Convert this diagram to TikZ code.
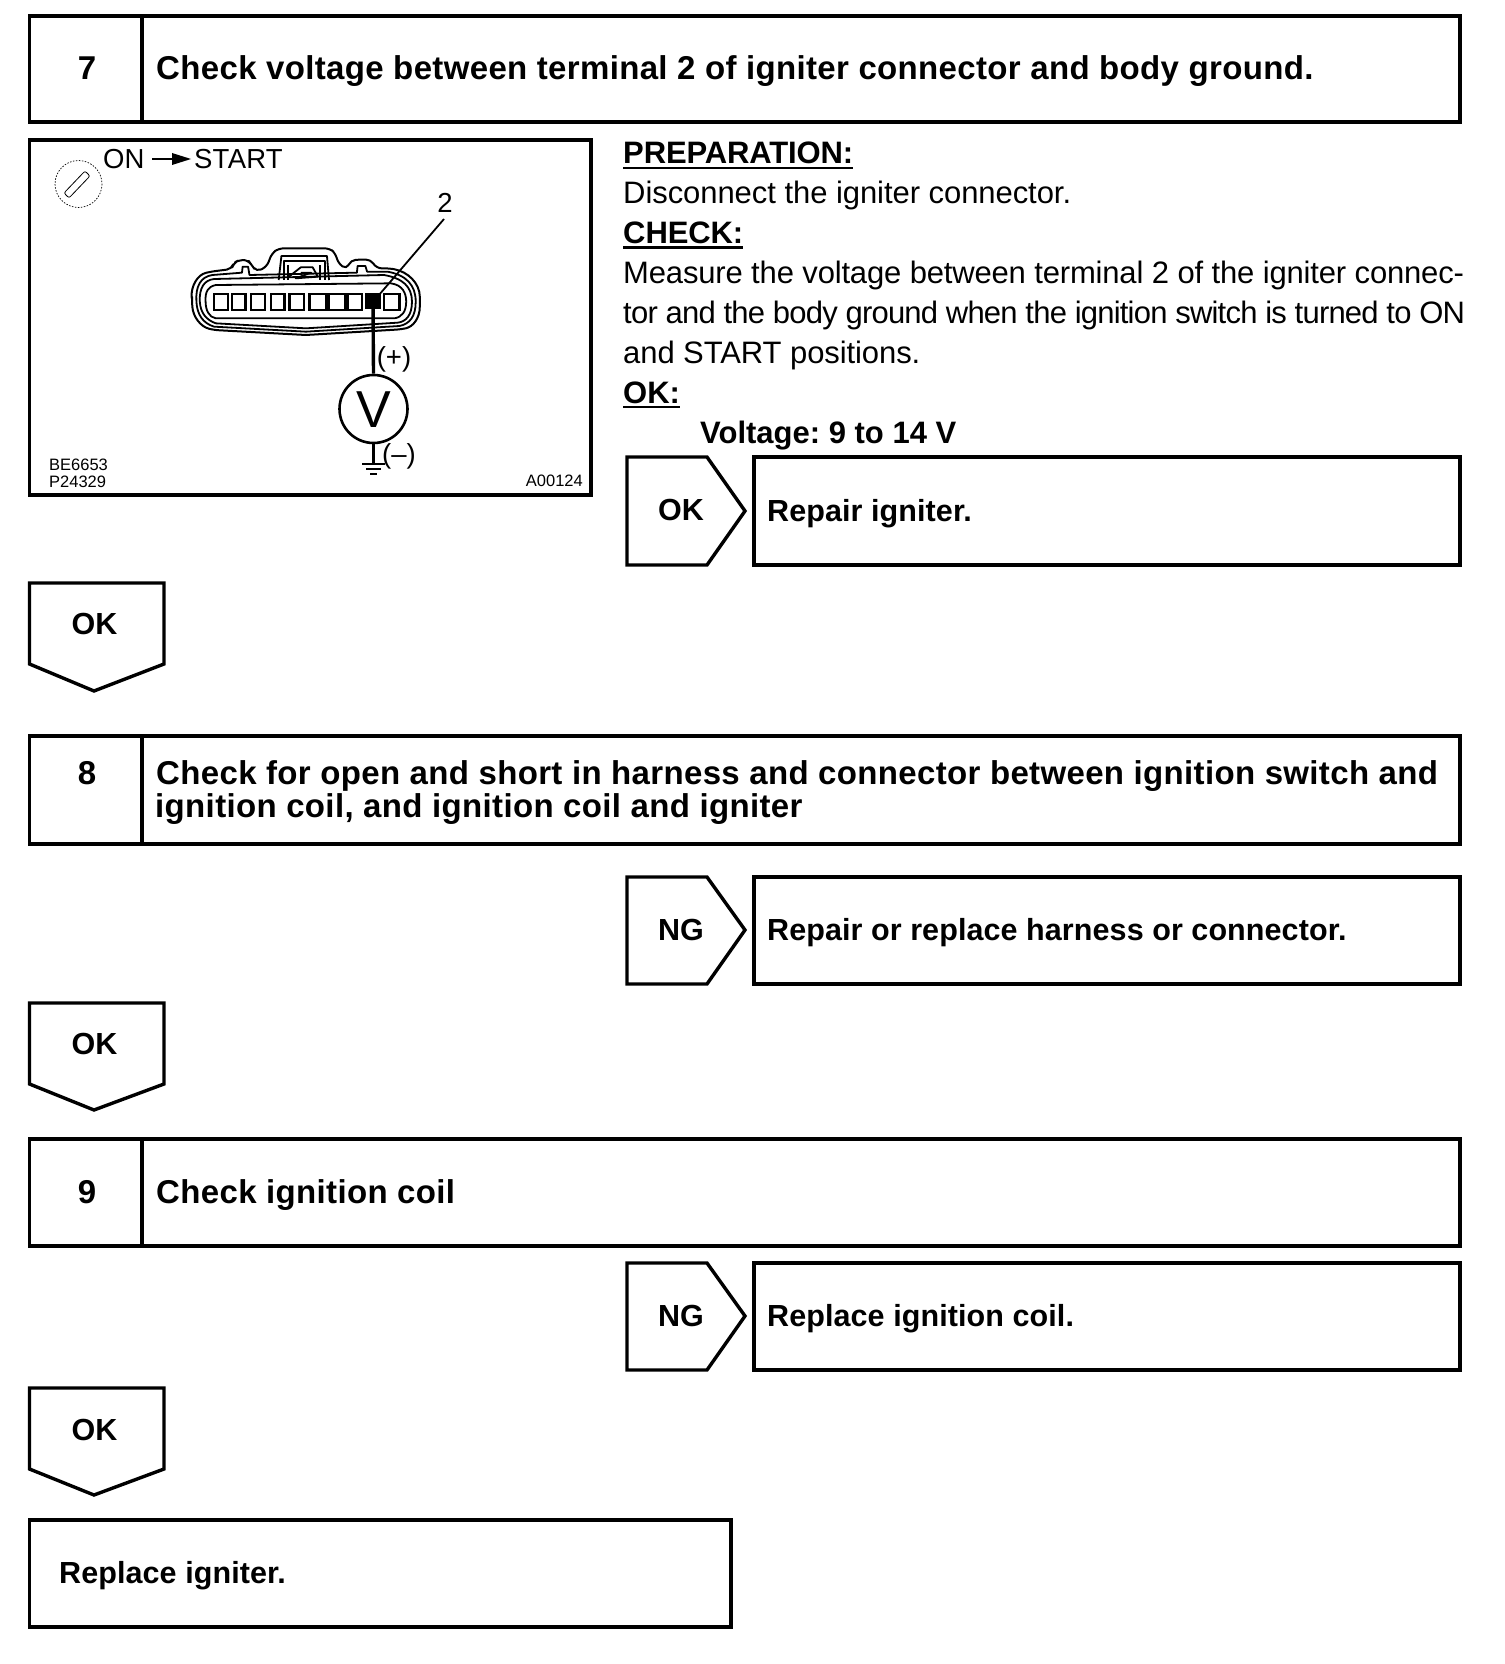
\documentclass[tikz,border=0pt]{standalone}
\usepackage{fontspec}
\setmainfont{Liberation Sans}
\newcommand{\lsp}[1]{\addfontfeature{LetterSpace=#1}}
\tikzset{
  x=1pt,y=-1pt,
  frame/.style={draw=black,line width=3.4pt,line join=miter},
  tb/.style={inner sep=0pt,anchor=base west,font=\fontsize{33}{33}\selectfont\bfseries\lsp{1.05}},
  tc/.style={inner sep=0pt,anchor=base,font=\fontsize{33}{33}\selectfont\bfseries},
  rb/.style={inner sep=0pt,anchor=base west,font=\fontsize{30.5}{30.5}\selectfont\bfseries\lsp{0.3}},
  rc/.style={inner sep=0pt,anchor=base,font=\fontsize{30.5}{30.5}\selectfont\bfseries},
  body/.style={inner sep=0pt,anchor=base west,font=\fontsize{31}{31}\selectfont},
  bodyb/.style={inner sep=0pt,anchor=base west,font=\fontsize{31}{31}\selectfont\bfseries},
  pic/.style={inner sep=0pt,anchor=base west,font=\fontsize{27.5}{27.5}\selectfont},
  tiny/.style={inner sep=0pt,anchor=base west,font=\fontsize{16.5}{16.5}\selectfont},
  fine/.style={line width=1.8pt,line join=round},
  uline/.style={line width=2.4pt}
}
\begin{document}
\frenchspacing
\begin{tikzpicture}
\useasboundingbox (0,0) rectangle (1504,1664);
% step headers
\draw[frame] (29.5,16) rectangle (1460,122) (142,16) -- (142,122);
\node[tc] (n7) at (87,80) {7};
\node[tb] (t7) at (156,80) {Check voltage between terminal 2 of igniter connector and body ground.};
\draw[frame] (29.5,736) rectangle (1460,844) (142,736) -- (142,844);
\node[tc] (n8) at (87,784) {8};
\node[tb] (t8a) at (156,784) {Check for open and short in harness and connector between ignition switch and};
\node[tb] (t8b) at (155,817) {ignition coil, and ignition coil and igniter};
\draw[frame] (29.5,1139) rectangle (1460,1246) (142,1139) -- (142,1246);
\node[tc] (n9) at (87,1203) {9};
\node[tb] (t9) at (156,1203) {Check ignition coil};
% illustration frame
\draw[frame] (29.5,140) rectangle (591,495);
\node[pic] (on) at (103,169) {ON};
\node[pic] (st) at (194,169) {\lsp{0.8}START};
\draw[line width=1.8pt] (152,159) -- (176,159);
\fill (191,159) -- (172,153) -- (172,165) -- cycle;
\draw[line width=.7pt,dash pattern=on 1.5pt off 1.5pt] (78.5,184) circle (23.5);
\draw[line width=.8pt,rounded corners=2pt] (64,193) -- (85,171) -- (90,176) -- (69,198) -- cycle;
\node[pic,anchor=base] (two) at (445,212) {2};
\node[pic,anchor=base] (plus) at (394,366) {(+)};
\node[pic,anchor=base] (minus) at (399,463) {(--)};
\node[tiny] (c1) at (49,470) {BE6653};
\node[tiny] (c2) at (49,487) {P24329};
\node[tiny,anchor=base east] (c3) at (583,486) {A00124};
% connector
\begin{scope}[shift={(166.5,230)},xscale=.34,yscale=1/3]
\draw[line width=2pt,line join=round,rounded corners=5pt]
 (75,215) .. controls (72,170) and (90,135) .. (130,125) -- (192,117)
 -- (198,98) -- (215,90) -- (240,90) -- (250,105) -- (265,125) -- (295,110) -- (310,70) -- (330,55)
 -- (480,55) -- (497,70) -- (505,100) -- (530,118) -- (542,90) -- (600,88) -- (618,115) -- (655,115)
 .. controls (710,125) and (745,160) .. (745,215) .. controls (745,265) and (725,290) .. (690,298)
 -- (410,315) -- (140,300) .. controls (100,290) and (78,260) .. (75,215) -- cycle;
\draw[fine] (88,215) .. controls (85,170) and (100,140) .. (135,135) -- (222,128) -- (224,110) -- (240,110) -- (244,135) -- (560,128) -- (562,108) -- (585,108) -- (590,125) -- (650,125)
 .. controls (705,135) and (733,165) .. (733,215) .. controls (733,260) and (715,282) .. (685,288)
 -- (410,305) -- (140,290) .. controls (108,280) and (90,255) .. (88,215) -- cycle;
\draw[fine] (98,215) .. controls (96,175) and (110,150) .. (140,147) -- (640,135)
 .. controls (695,145) and (722,170) .. (722,215) .. controls (722,255) and (705,275) .. (680,278)
 -- (410,295) -- (145,280) .. controls (118,270) and (100,250) .. (98,215) -- cycle;
\draw[fine] (115,215) .. controls (113,185) and (122,170) .. (145,165) -- (660,160)
 .. controls (695,165) and (705,190) .. (705,215) .. controls (705,245) and (692,262) .. (670,265)
 -- (145,265) .. controls (125,262) and (115,240) .. (115,215) -- cycle;
\foreach \a/\b in {140/180,192/232,248/290,308/347,362/405,420/470,476/525,532/575,640/685}
  \draw[line width=2.4pt] (\a,192) rectangle (\b,240);
\fill (585,188) rectangle (632,236);
\draw[fine] (330,150) -- (338,78) -- (472,78) -- (478,150);
\draw[fine] (345,150) -- (345,92) -- (465,92) -- (465,150);
\draw[fine] (360,140) -- (395,112) -- (430,112) -- (445,140) -- (380,145) -- (425,128) -- (395,128);
\draw[fine] (358,105) -- (358,150) (452,105) -- (452,150);
\end{scope}
\node[circle,draw,line width=2.6pt,minimum size=68pt,inner sep=0pt] (vm) at (373.5,409) {};
\node[inner sep=0pt,anchor=base,font=\fontsize{52}{52}\selectfont] (vl) at (373.5,427) {V};
\coordinate (term) at (373,302);
\coordinate (lead) at (444,219);
\coordinate (gnd) at (373.5,464);
\draw[line width=3.4pt] (term) -- (vm.north);
\draw[line width=1.8pt] (term) -- (lead);
\draw[line width=2.4pt] (vm.south) -- (gnd);
\draw[line width=2pt] (362,464) -- (385,464) (366,469) -- (381,469) (370,474) -- (377,474);
% preparation text
\node[bodyb,font=\fontsize{31}{31}\selectfont\bfseries\lsp{-0.4}] (prep) at (623,164) {PREPARATION:};
\draw[uline] ([yshift=-4pt]prep.base west) -- ([yshift=-4pt]prep.base east);
\node[body,font=\fontsize{31}{31}\selectfont\lsp{-0.2}] (l1) at (623,204) {Disconnect the igniter connector.};
\node[bodyb,font=\fontsize{31}{31}\selectfont\bfseries\lsp{-0.3}] (chk) at (623,243.5) {CHECK:};
\draw[uline] ([yshift=-4pt]chk.base west) -- ([yshift=-4pt]chk.base east);
\node[body,font=\fontsize{31}{31}\selectfont\lsp{-0.55}] (l2) at (623,283) {Measure the voltage between terminal 2 of the igniter connec-};
\node[body,font=\fontsize{31}{31}\selectfont\lsp{-2.55}] (l3) at (623,323) {tor and the body ground when the ignition switch is turned to ON};
\node[body,font=\fontsize{31}{31}\selectfont\lsp{-0.3}] (l4) at (623,363) {and START positions.};
\node[bodyb] (okh) at (623,403) {OK:};
\draw[uline] ([yshift=-4pt]okh.base west) -- ([yshift=-4pt]okh.base east);
\node[bodyb] (volt) at (700,443) {Voltage: 9 to 14 V};
% right tags and result boxes
\draw[frame] (627,457) -- (707,457) -- (745,511) -- (707,565) -- (627,565) -- cycle;
\node[rc] (tag1) at (681,520) {OK};
\draw[frame] (754,457) rectangle (1460,565);
\node[rb] (res1) at (767,521) {Repair igniter.};
\draw[frame] (627,877) -- (707,877) -- (745,930) -- (707,984) -- (627,984) -- cycle;
\node[rc] (tag2) at (681,940) {NG};
\draw[frame] (754,877) rectangle (1460,984);
\node[rb] (res2) at (767,940) {Repair or replace harness or connector.};
\draw[frame] (627,1263) -- (707,1263) -- (745,1316) -- (707,1370) -- (627,1370) -- cycle;
\node[rc] (tag3) at (681,1326) {NG};
\draw[frame] (754,1263) rectangle (1460,1370);
\node[rb] (res3) at (767,1326) {Replace ignition coil.};
% down tags
\draw[frame] (29.5,583) -- (164,583) -- (164,664) -- (94,691) -- (29.5,664) -- cycle;
\node[rc] (d1) at (94.5,634) {OK};
\draw[frame] (29.5,1003) -- (164,1003) -- (164,1084) -- (94,1110) -- (29.5,1084) -- cycle;
\node[rc] (d2) at (94.5,1054) {OK};
\draw[frame] (29.5,1388) -- (164,1388) -- (164,1469) -- (94,1495) -- (29.5,1469) -- cycle;
\node[rc] (d3) at (94.5,1440) {OK};
% final box
\draw[frame] (29.5,1520) rectangle (731,1627);
\node[rb] (fin) at (59,1583) {Replace igniter.};
\end{tikzpicture}
\end{document}
